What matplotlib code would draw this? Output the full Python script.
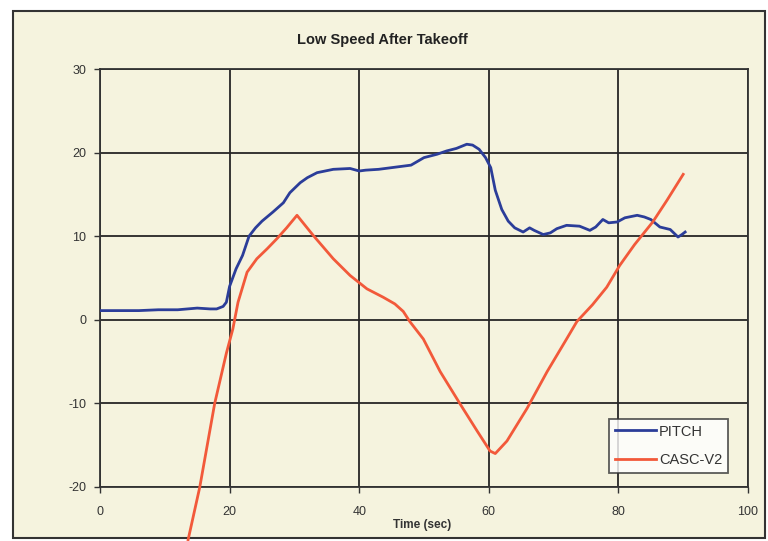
import matplotlib
matplotlib.use("Agg")
import matplotlib.pyplot as plt
from matplotlib.patches import Rectangle

plt.rcParams['font.family'] = ['Liberation Sans', 'DejaVu Sans']
plt.rcParams['axes.unicode_minus'] = False

title = "Low Speed After Takeoff"
xlabel = "Time (sec)"
series_names = ["PITCH", "CASC-V2"]

pitch_t = [0, 3, 6, 9, 12, 15, 17, 18, 19, 19.5, 20, 21, 22, 23, 24, 25, 26.7, 28.3, 29.3, 30.9,
           32, 33.5, 36, 38.6, 40, 41, 43, 46, 48, 50, 52, 53.5, 55, 56.6, 57.5, 58.5, 59.5,
           60.3, 61, 62, 63, 64, 65.3, 66.3, 67, 68.4, 69.5, 70.5, 72, 74, 75.6, 76.5, 77.6,
           78.5, 79.8, 81, 82.9, 84, 85, 86.4, 88, 89.2, 89.8, 90.3]
pitch_v = [1.1, 1.1, 1.1, 1.2, 1.2, 1.4, 1.3, 1.3, 1.6, 2.1, 4.0, 6.1, 7.7, 10.0, 11.0, 11.8, 12.9,
           14.0, 15.2, 16.4, 17.0, 17.6, 18.0, 18.1, 17.8, 17.9, 18.0, 18.3, 18.5, 19.4, 19.8,
           20.2, 20.5, 21.0, 20.9, 20.4, 19.4, 18.2, 15.5, 13.2, 11.8, 11.0, 10.5, 11.0, 10.7,
           10.2, 10.4, 10.9, 11.3, 11.2, 10.7, 11.1, 12.0, 11.6, 11.7, 12.2, 12.5, 12.3, 12.0,
           11.1, 10.8, 9.9, 10.2, 10.5]

casc_t = [13.6, 15.4, 17.7, 19.5, 20.5, 21.3, 22.7, 24.2, 25.8, 27.3, 28.8, 30.4, 32.9, 36,
          38.6, 41.2, 43.7, 45.5, 46.8, 47.8, 49.9, 52.5, 55.6, 58.2, 60.2, 61, 62.8, 65.9, 69,
          72, 73.6, 76, 78.2, 80.2, 82.5, 85.3, 87.5, 90]
casc_v = [-26.3, -20.0, -10.0, -4.0, -1.1, 2.1, 5.7, 7.3, 8.5, 9.7, 11.0, 12.5, 10.1, 7.3,
          5.3, 3.7, 2.7, 1.9, 1.0, -0.2, -2.3, -6.2, -10.1, -13.3, -15.7, -16.0, -14.5, -10.6,
          -6.2, -2.3, -0.2, 1.8, 3.9, 6.5, 9.0, 11.7, 14.3, 17.4]

xticks = [0, 20, 40, 60, 80, 100]
yticks = [-20, -10, 0, 10, 20, 30]

cream = "#f5f3de"
W, H = 768, 541
fig = plt.figure(figsize=(W / 100, H / 100), dpi=100)
fig.patch.set_facecolor("white")
frame = Rectangle((13 / W, 1 - 538 / H), (765 - 13) / W, (538 - 11) / H,
                  transform=fig.transFigure, facecolor=cream,
                  edgecolor="#333333", linewidth=1.5, zorder=-10)
fig.patches.append(frame)

ax = fig.add_axes([100 / W, 1 - 487 / H, 648 / W, 418 / H])
ax.set_zorder(1)
ax.set_facecolor(cream)
ax.set_xlim(0, 100)
ax.set_ylim(-20, 30)
ax.set_xticks(xticks)
ax.set_yticks(yticks)
ax.grid(True, color="#262626", linewidth=1.3)
ax.set_axisbelow(True)
for s in ax.spines.values():
    s.set_color("#333333")
    s.set_linewidth(1.3)
ax.tick_params(axis='both', labelsize=9, labelcolor="#333333", color="#333333",
               length=4, width=1)
ax.tick_params(axis='x', pad=10)
ax.tick_params(axis='y', pad=6)

ax.plot(pitch_t, pitch_v, color="#2b3d99", linewidth=2.0, label=series_names[0], zorder=3)
ax.plot(casc_t, casc_v, color="#f2593a", linewidth=2.0, label=series_names[1], zorder=3,
        clip_on=False)

leg = ax.legend(loc="lower right", bbox_to_anchor=(728 / W, 1 - 473 / H),
                bbox_transform=fig.transFigure, fontsize=10.5, frameon=True, fancybox=False,
                handlelength=2.8, handletextpad=0.2, borderpad=0.4, labelspacing=1.0,
                borderaxespad=0)
leg.get_frame().set_edgecolor("#333333")
leg.get_frame().set_facecolor("white")
leg.get_frame().set_linewidth(1.3)
for t in leg.get_texts():
    t.set_color("#333333")

fig.text(382 / W, 1 - 40 / H, title, ha="center", va="center", fontsize=10.5,
         fontweight="bold", color="#222222", zorder=2)
fig.text(422 / W, 1 - 525 / H, xlabel, ha="center", va="center", fontsize=8.5,
         fontweight="bold", color="#333333", zorder=2)

fig.savefig("out.png", dpi=100, facecolor=fig.get_facecolor())
